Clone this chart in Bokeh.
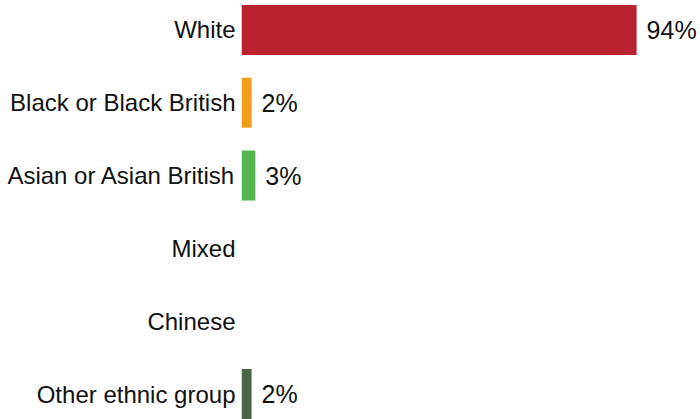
from bokeh.plotting import figure
from bokeh.models import ColumnDataSource, Range1d, FixedTicker
from bokeh.core.properties import value
from bokeh.embed import file_html
from bokeh.resources import INLINE

categories = ["White", "Black or Black British", "Asian or Asian British",
              "Mixed", "Chinese", "Other ethnic group"]
values = [94, 2.4, 3.3, 0, 0, 2.4]
colors = ["#BA2230", "#F29E1A", "#53B450", "#7E57C2", "#1E88E5", "#4A6448"]

n = len(categories)
ypos = [n - 1 - i for i in range(n)]
labels = [f"{round(v)}%" if v > 0 else "" for v in values]

src = ColumnDataSource(dict(y=ypos, v=values, c=colors, lab=labels, cat=categories))

FONT = "Liberation Sans"

p = figure(width=700, height=419, output_backend="svg", toolbar_location=None,
           x_range=Range1d(0, 109.2), y_range=Range1d(-0.35, n - 1 + 0.405),
           min_border_left=241, min_border_right=0, min_border_top=0, min_border_bottom=0,
           margin=(0, 0, 0, 0))
p.outline_line_color = None
p.grid.visible = False
p.xaxis.visible = False

p.hbar(y="y", right="v", left=0, height=0.687, fill_color="c", line_color=None, source=src)
p.text(x="v", y="y", text="lab", x_offset=10, text_align="left", text_baseline="middle",
       text_font=value(FONT), text_font_size="25px", text_color="#111111", source=src)

ya = p.yaxis[0]
ya.ticker = FixedTicker(ticks=ypos)
ya.major_label_overrides = {y: c for y, c in zip(ypos, categories)}
ya.axis_line_color = None
ya.major_tick_line_color = None
ya.minor_tick_line_color = None
ya.major_tick_out = 0
ya.major_tick_in = 0
ya.major_label_standoff = 6
ya.major_label_text_font = FONT
ya.major_label_text_font_size = "24px"
ya.major_label_text_color = "#111111"

open("out.html", "w").write(file_html(p, INLINE))
